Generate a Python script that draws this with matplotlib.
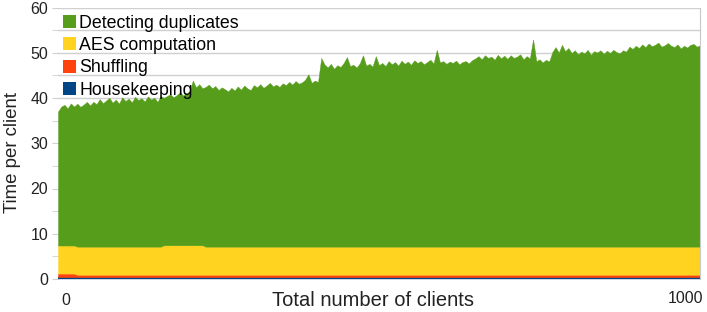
import numpy as np
import matplotlib
matplotlib.use("Agg")
from matplotlib import pyplot as plt
from matplotlib.patches import Patch
from matplotlib.transforms import ScaledTranslation

plt.rcParams['font.family'] = ['Liberation Sans', 'DejaVu Sans']

# number of clients, sampled every 5
clients = np.arange(0, 1001, 5)

# time per client for each stage (stacked bottom to top)
housekeeping = [0.4] * 201
shuffling = [0.8] * 6 + [0.55] * 195
aes = [6.2] * 33 + [6.5] * 13 + [6.2] * 155
duplicates = [
    29.6, 30.7, 31.1, 30.3, 31.4, 30.7, 31.6, 30.9, 31.4, 32.0,
    31.2, 32.0, 31.5, 32.6, 31.7, 32.3, 32.9, 31.8, 32.5, 31.6,
    33.0, 32.2, 32.7, 31.9, 33.1, 32.4, 32.8, 32.1, 33.2, 32.5,
    32.9, 32.0, 33.3, 32.6, 33.0, 33.4, 32.7, 33.2, 33.8, 33.1,
    33.6, 34.0, 36.4, 34.9, 35.6, 34.7, 35.3, 35.8, 35.0, 35.5,
    34.6, 35.2, 34.8, 34.3, 35.1, 34.5, 35.4, 34.7, 35.6, 35.0,
    34.6, 35.7, 35.2, 35.9, 35.1, 35.6, 36.2, 35.4, 35.8, 35.3,
    36.1, 35.7, 36.4, 35.8, 36.6, 36.0, 36.3, 36.9, 38.1, 36.2,
    36.7, 36.4, 41.7, 40.3, 39.6, 40.4, 39.3, 40.1, 39.7, 40.6,
    41.9, 39.9, 40.2, 39.6, 40.5, 42.3, 40.0, 40.4, 39.8, 42.1,
    40.1, 40.6, 39.9, 41.0, 40.3, 40.8, 40.0, 41.1, 40.4, 40.9,
    40.2, 41.2, 40.6, 41.0, 40.3, 40.8, 41.3, 40.5, 43.5, 40.7,
    41.0, 40.4, 40.9, 40.6, 41.1, 40.3, 40.8, 41.0, 40.5, 41.2,
    41.6, 42.1, 41.4, 42.3, 41.7, 42.0, 41.3, 42.4, 41.6, 42.2,
    41.5, 42.3, 41.7, 42.0, 42.5, 41.4, 42.1, 41.6, 45.8, 41.0,
    41.4, 40.7, 41.3, 40.9, 43.0, 44.1, 42.9, 44.6, 43.2, 43.9,
    42.8, 43.4, 42.5, 43.1, 42.7, 43.5, 42.4, 43.2, 42.9, 43.4,
    42.6, 43.3, 42.8, 43.5, 43.0, 42.7, 43.4, 43.1, 44.2, 43.7,
    44.4, 43.9, 44.7, 44.1, 44.9, 44.3, 44.6, 45.1, 44.2, 44.5,
    45.0, 44.4, 44.1, 44.7, 43.8, 44.4, 44.0, 44.6, 44.8, 44.2,
    44.5,
]

labels = ["Housekeeping", "Shuffling", "AES computation", "Detecting duplicates"]
colors = ["#004586", "#ff420e", "#ffd320", "#579d1c"]

fig = plt.figure(figsize=(7.07, 3.12), dpi=100)
ax = fig.add_axes([58 / 707, 33 / 312, 642 / 707, 271.5 / 312])

ax.stackplot(clients, housekeeping, shuffling, aes, duplicates,
             colors=colors, labels=labels, linewidth=0.3, edgecolor='face')

ax.set_xlim(0, 1000)
ax.set_ylim(0, 60)
ax.set_yticks(range(0, 61, 10))
ax.set_yticks(range(5, 60, 10), minor=True)
ax.set_axisbelow(True)
ax.grid(axis='y', which='both', color='#d0d0d0', linewidth=1)
ax.tick_params(axis='y', which='both', length=4, color='#d0d0d0', pad=3,
               labelsize=11.5, labelcolor='#222222')
ax.tick_params(axis='y', which='minor', labelleft=False)

ax.set_xticks([0, 1000])
ax.set_xticklabels(["0", "1000"])
ax.tick_params(axis='x', length=0, pad=10, labelsize=11.5, labelcolor='#222222')
xl = ax.get_xticklabels()
xl[0].set_ha('left')
xl[0].set_transform(xl[0].get_transform() + ScaledTranslation(0.03, 0, fig.dpi_scale_trans))
xl[1].set_ha('right')
xl[1].set_transform(xl[1].get_transform() + ScaledTranslation(0.03, 0.02, fig.dpi_scale_trans))

for s in ['left', 'bottom', 'top']:
    ax.spines[s].set_visible(False)
ax.spines['right'].set_color('#c8c8c8')

ax.set_xlabel("Total number of clients", fontsize=14.5, color='#222222')
ax.xaxis.set_label_coords(0.49, -0.045)
ax.set_ylabel("Time per client", fontsize=13.4, color='#222222')
ax.yaxis.set_label_coords(-0.058, 0.467)

handles = [Patch(facecolor=c, edgecolor='none') for c in colors[::-1]]
ax.legend(handles, labels[::-1], loc='upper left', bbox_to_anchor=(-0.004, 1.0),
          frameon=False, fontsize=12.8, handlelength=0.75, handleheight=0.75,
          handletextpad=0.2, labelspacing=0.3, borderaxespad=0.2, borderpad=0.2)

plt.savefig("out.png", dpi=100)
